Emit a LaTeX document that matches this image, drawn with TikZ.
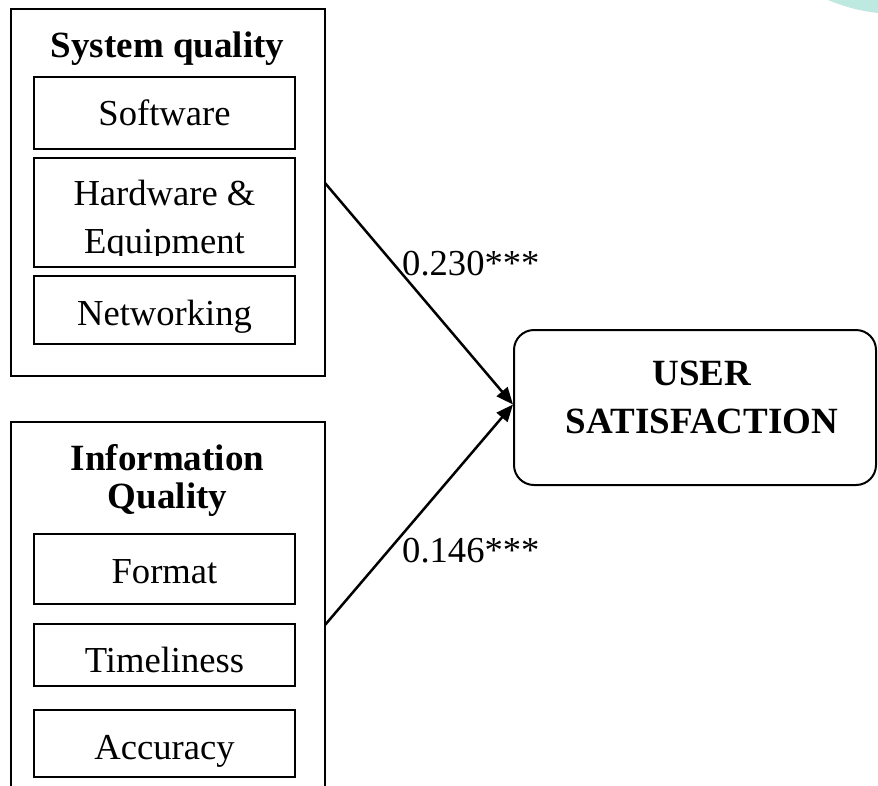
\documentclass[tikz,border=0pt]{standalone}
\usepackage{fontspec}
\setmainfont{Liberation Serif}
\usetikzlibrary{arrows.meta,calc}

\definecolor{tealtint}{RGB}{190,233,224}

\tikzset{
  frame/.style={draw=black, line width=2pt},
  cell/.style={draw=black, line width=2pt, rectangle, inner sep=0pt},
  txt/.style={anchor=base, inner sep=0pt, font=\fontsize{36.6}{44}\selectfont},
  head/.style={txt, font=\fontsize{37}{44}\selectfont\bfseries},
  coef/.style={anchor=base west, inner sep=0pt, font=\fontsize{36.6}{44}\selectfont},
  link/.style={line width=2.5pt, -{Triangle[length=17pt,width=14pt]}},
  outcome/.style={draw=black, line width=2pt, rectangle, rounded corners=20pt,
    minimum width=362pt, minimum height=155pt, inner sep=0pt}
}

\begin{document}
\begin{tikzpicture}[x=1pt, y=-1pt]
\useasboundingbox (0,0) rectangle (878,785);

% faint decorative tint in the top-right corner
\fill[tealtint] (828,0) .. controls (845,7) and (860,11) .. (878,13) -- (878,0) -- cycle;

% ---- System quality group ----
\node[frame, rectangle, minimum width=314pt, minimum height=367pt, inner sep=0pt] (sq) at (168,192.5) {};
\node[head] (sqt) at (167.5,57) {System quality};

\node[cell, minimum width=261pt, minimum height=72pt] (sw) at (164.5,113) {};
\node[txt] (swt) at (164.5,125) {Software};

\node[cell, minimum width=261pt, minimum height=109pt] (hw) at (164.5,212.5) {};
\node[txt] (hwt1) at (164.5,205) {Hardware \&};
\begin{scope}
  \clip (34,158) rectangle (295,255.5);
  \node[txt] (hwt2) at (164.5,253) {Equipment};
\end{scope}

\node[cell, minimum width=261pt, minimum height=68pt] (nw) at (164.5,310) {};
\node[txt] (nwt) at (164.5,325) {Networking};

% ---- Information Quality group (runs past the lower edge) ----
\coordinate (iqbl) at (11,786);
\coordinate (iqtl) at (11,422);
\coordinate (iqtr) at (325,422);
\coordinate (iqbr) at (325,786);
\draw[frame] (iqbl) -- (iqtl) -- (iqtr) -- (iqbr);
\node[head] (iqt1) at (167.5,470) {Information};
\node[head] (iqt2) at (167.5,508) {Quality};

\node[cell, minimum width=261pt, minimum height=70pt] (fm) at (164.5,569) {};
\node[txt] (fmt) at (164.5,583) {Format};

\node[cell, minimum width=261pt, minimum height=62pt] (tl) at (164.5,655) {};
\node[txt] (tlt) at (164.5,672) {Timeliness};

\node[cell, minimum width=261pt, minimum height=67pt] (ac) at (164.5,743.5) {};
\node[txt] (act) at (164.5,759) {Accuracy};

% ---- Outcome ----
\node[outcome] (us) at (695,407.5) {};
\node[head] (ust1) at (702,385) {USER};
\node[head] (ust2) at (702,433) {SATISFACTION};

% ---- Paths ----
\coordinate (s1) at (325,183);
\coordinate (s2) at (325,625);
\coordinate (tip) at ($(us.west)+(0,-3)$);
\draw[link] (s1) -- (tip);
\draw[link] (s2) -- (tip);

\node[coef] (c1) at (402,275) {0.230***};
\node[coef] (c2) at (402,562) {0.146***};
\end{tikzpicture}
\end{document}
